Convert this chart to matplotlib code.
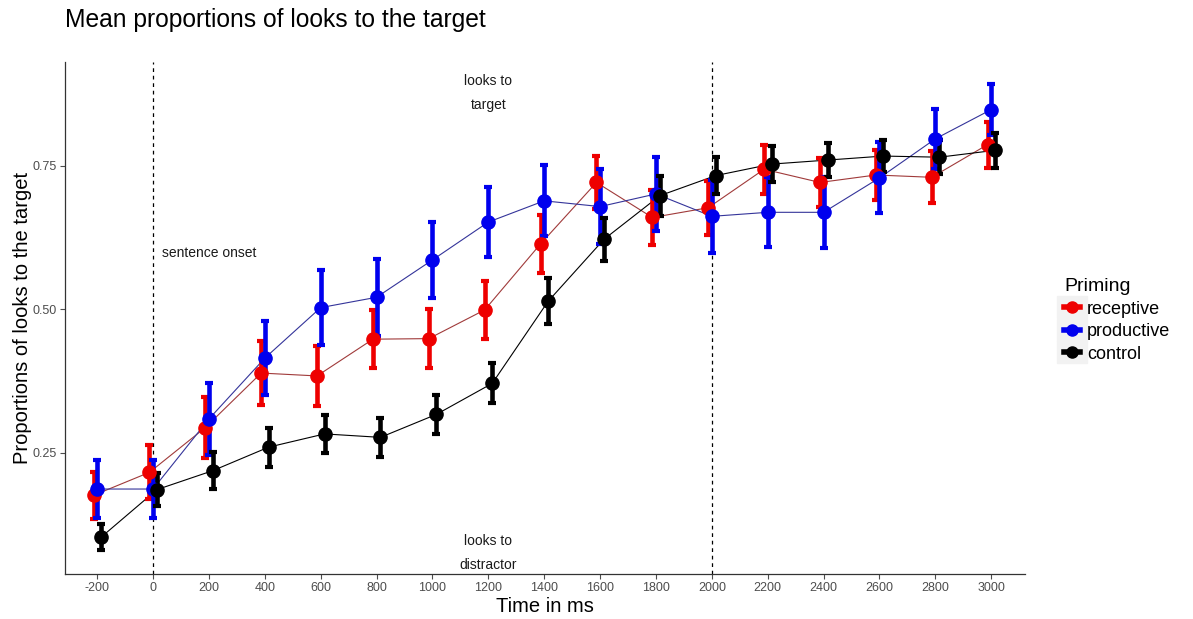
import matplotlib.pyplot as plt
from matplotlib.lines import Line2D
from matplotlib.patches import Rectangle

plt.rcParams["font.family"] = ["Liberation Sans", "DejaVu Sans"]

# Time bins (ms) and group means / error half-widths
time_ms = [-200, 0, 200, 400, 600, 800, 1000, 1200, 1400, 1600, 1800, 2000, 2200, 2400, 2600, 2800, 3000]

receptive = [0.176, 0.216, 0.294, 0.389, 0.384, 0.448, 0.449, 0.499, 0.614, 0.721, 0.660, 0.677, 0.744, 0.721, 0.734, 0.730, 0.787]
receptive_err = [0.041, 0.047, 0.053, 0.055, 0.052, 0.050, 0.051, 0.051, 0.050, 0.046, 0.048, 0.047, 0.043, 0.043, 0.043, 0.045, 0.040]

productive = [0.187, 0.187, 0.309, 0.415, 0.503, 0.521, 0.586, 0.652, 0.689, 0.679, 0.701, 0.662, 0.669, 0.669, 0.729, 0.797, 0.848]
productive_err = [0.050, 0.050, 0.062, 0.065, 0.065, 0.067, 0.066, 0.061, 0.062, 0.065, 0.064, 0.064, 0.061, 0.062, 0.062, 0.052, 0.045]

control = [0.103, 0.186, 0.219, 0.260, 0.283, 0.277, 0.317, 0.371, 0.514, 0.622, 0.698, 0.733, 0.753, 0.760, 0.767, 0.765, 0.777]
control_err = [0.023, 0.029, 0.032, 0.034, 0.033, 0.034, 0.034, 0.035, 0.040, 0.037, 0.035, 0.032, 0.031, 0.030, 0.028, 0.030, 0.030]

groups = ["receptive", "productive", "control"]
colors = {"receptive": "#ee0000", "productive": "#0000ee", "control": "#000000"}
line_colors = {"receptive": "#a03a3a", "productive": "#34349a", "control": "#000000"}
dodge = {"receptive": -13, "productive": 0, "control": 14}
means = {"receptive": receptive, "productive": productive, "control": control}
errs = {"receptive": receptive_err, "productive": productive_err, "control": control_err}


def main():
    fig = plt.figure(figsize=(11.93, 6.19), dpi=100)
    ax = fig.add_axes([0.0545, 0.0727, 0.8045, 0.8273])

    # thin connecting lines
    for g in groups:
        xs = [t + dodge[g] for t in time_ms]
        ax.plot(xs, means[g], color=line_colors[g], lw=0.8, zorder=2)

    # error bars
    for g in groups:
        xs = [t + dodge[g] for t in time_ms]
        ax.errorbar(xs, means[g], yerr=errs[g], fmt="none", ecolor=colors[g],
                    elinewidth=3.3, capsize=3.2, capthick=3, zorder=3)

    # points
    for g in groups:
        xs = [t + dodge[g] for t in time_ms]
        ax.plot(xs, means[g], "o", color=colors[g], markersize=9.5, zorder=4)

    ax.axvline(0, color="black", lw=0.9, ls=(0, (3, 3)), zorder=1)
    ax.axvline(2000, color="black", lw=0.9, ls=(0, (3, 3)), zorder=1)

    ax.text(1200, 0.877, "looks to\ntarget", ha="center", va="center",
            fontsize=10, linespacing=1.9, color="#1a1a1a")
    ax.text(1200, 0.076, "looks to\ndistractor", ha="center", va="center",
            fontsize=10, linespacing=1.9, color="#1a1a1a")
    ax.text(32, 0.598, "sentence onset", ha="left", va="center",
            fontsize=10, color="#1a1a1a")

    ax.set_xlim(-315, 3120)
    ax.set_ylim(0.039, 0.931)
    ax.set_xticks(time_ms)
    ax.set_xticklabels([str(t) for t in time_ms])
    ax.set_yticks([0.25, 0.50, 0.75])
    ax.set_yticklabels(["0.25", "0.50", "0.75"])
    ax.tick_params(colors="#4d4d4d", labelsize=9, length=3.5, width=0.8, pad=2.5)

    for side in ["top", "right"]:
        ax.spines[side].set_visible(False)
    for side in ["left", "bottom"]:
        ax.spines[side].set_color("#333333")
        ax.spines[side].set_linewidth(0.9)

    ax.set_xlabel("Time in ms", fontsize=14.5, labelpad=2)
    ax.set_ylabel("Proportions of looks to the target", fontsize=14.5, labelpad=0)
    fig.text(0.0545, 0.967, "Mean proportions of looks to the target",
             fontsize=17.7, ha="left", va="center")

    # legend with grey key boxes like ggplot
    handles = [Line2D([], [], color=colors[g], marker="o", lw=4, markersize=8)
               for g in groups]
    leg = fig.legend(handles, groups, title="Priming", loc="upper left",
                     bbox_to_anchor=(0.886, 0.562), frameon=False,
                     fontsize=13, title_fontsize=14, handlelength=0.85,
                     handletextpad=0.4, labelspacing=0.3, borderaxespad=0)
    leg._legend_box.align = "left"
    fig.canvas.draw()
    for h in leg.legend_handles:
        bb = h.get_window_extent(fig.canvas.get_renderer())
        cy = (bb.y0 + bb.y1) / 2
        box = Rectangle(((bb.x0 - 2) / fig.bbox.width, (cy - 11) / fig.bbox.height),
                        (bb.width + 4) / fig.bbox.width, 22 / fig.bbox.height,
                        transform=fig.transFigure, color="#f2f2f2", zorder=0)
        fig.patches.append(box)

    fig.savefig("out.png", dpi=100)
    plt.close(fig)


if __name__ == "__main__":
    main()
